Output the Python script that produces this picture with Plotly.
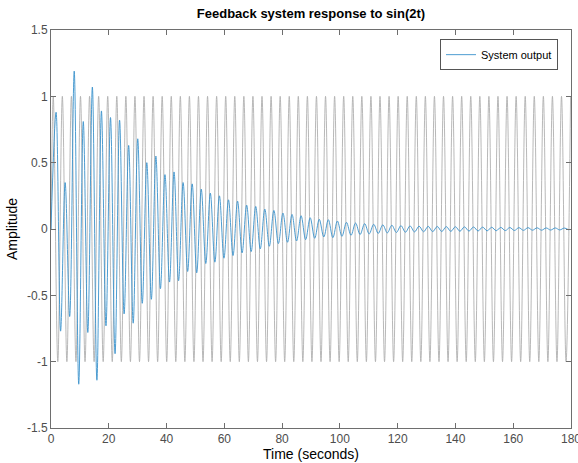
import numpy as np
import plotly.graph_objects as go

# ---- data ----
# input sin(2t): extrema (alternating +1/-1) every half period, first at t=0.785
input_first_t = 0.785
input_half_period = 1.5708
input_extrema = [
    1, -1, 1, -1, 1, -1, 1, -1, 1, -1, 1, -1, 1, -1, 1, -1, 1, -1, 1, -1,
    1, -1, 1, -1, 1, -1, 1, -1, 1, -1, 1, -1, 1, -1, 1, -1, 1, -1, 1, -1,
    1, -1, 1, -1, 1, -1, 1, -1, 1, -1, 1, -1, 1, -1, 1, -1, 1, -1, 1, -1,
    1, -1, 1, -1, 1, -1, 1, -1, 1, -1, 1, -1, 1, -1, 1, -1, 1, -1, 1, -1,
    1, -1, 1, -1, 1, -1, 1, -1, 1, -1, 1, -1, 1, -1, 1, -1, 1, -1, 1, -1,
    1, -1, 1, -1, 1, -1, 1, -1, 1, -1, 1, -1, 1, -1, 1,
]

# system output: peaks/troughs, first at t=1.75
output_first_t = 1.75
output_half_period = 1.5708
output_extrema = [
    0.88, -0.77, 0.35, -0.66, 1.19, -1.17, 0.81, -0.78, 1.07, -1.14,
    0.89, -0.73, 0.84, -0.94, 0.82, -0.64, 0.63, -0.71, 0.68, -0.56,
    0.50, -0.53, 0.55, -0.45, 0.41, -0.40, 0.43, -0.39, 0.35, -0.32,
    0.34, -0.33, 0.30, -0.26, 0.27, -0.25, 0.25, -0.22, 0.22, -0.20,
    0.21, -0.18, 0.18, -0.17, 0.17, -0.15, 0.15, -0.13, 0.14, -0.11,
    0.12, -0.10, 0.11, -0.09, 0.10, -0.08, 0.085, -0.07, 0.073, -0.06,
    0.07, -0.065, 0.06, -0.055, 0.05, -0.048, 0.045, -0.042, 0.04, -0.037,
    0.035, -0.033, 0.031, -0.029, 0.028, -0.026, 0.025, -0.024, 0.023, -0.022,
    0.021, -0.021, 0.020, -0.020, 0.019, -0.019, 0.018, -0.018, 0.017, -0.017,
    0.016, -0.016, 0.015, -0.015, 0.014, -0.014, 0.013, -0.013, 0.012, -0.012,
    0.011, -0.011, 0.010, -0.010, 0.010, -0.009, 0.009, -0.009, 0.008, -0.008,
    0.008, -0.007, 0.007, -0.007,
]

x_ticks = [0, 20, 40, 60, 80, 100, 120, 140, 160, 180]
y_ticks = [-1.5, -1, -0.5, 0, 0.5, 1, 1.5]
y_tick_labels = ["-1.5", "-1", "-0.5", "0", "0.5", "1", "1.5"]

# ---- build series ----
t_in = np.concatenate([[0.0], input_first_t + input_half_period * np.arange(len(input_extrema))])
y_in = np.concatenate([[0.0], input_extrema])
t_out = np.concatenate([[0.0], output_first_t + output_half_period * np.arange(len(output_extrema))])
y_out = np.concatenate([[0.0], output_extrema])

FONT = "Liberation Sans, Arial, Helvetica, sans-serif"

fig = go.Figure()
fig.add_trace(go.Scatter(
    x=t_in, y=y_in, mode="lines", showlegend=False, hoverinfo="skip",
    line=dict(color="#b0b0b0", width=0.9, shape="spline", smoothing=1.0),
))
fig.add_trace(go.Scatter(
    x=t_out, y=y_out, mode="lines", name="System output",
    line=dict(color="#3a92cc", width=0.9, shape="spline", smoothing=1.0),
))

axis_common = dict(
    showline=True, linecolor="#6e6e6e", linewidth=1, mirror="ticks",
    ticks="inside", ticklen=5, tickcolor="#6e6e6e", tickwidth=1,
    showgrid=False, zeroline=False, ticklabeloverflow="allow", automargin=False,
    tickfont=dict(family=FONT, size=12, color="#4d4d4d"),
)

fig.update_layout(
    width=578, height=463,
    margin=dict(l=51, r=7, t=30, b=35, autoexpand=False),
    paper_bgcolor="white", plot_bgcolor="white",
    title=dict(text="<b>Feedback system response to sin(2t)</b>",
               x=0.538, xanchor="center", y=0.972, yanchor="middle",
               font=dict(family=FONT, size=13, color="black")),
    xaxis=dict(range=[0, 180], tickvals=x_ticks, ticktext=[str(v) for v in x_ticks],
               title=dict(text="Time (seconds)", standoff=3,
                          font=dict(family=FONT, size=14, color="black")),
               **axis_common),
    yaxis=dict(range=[-1.5, 1.5], tickvals=y_ticks, ticktext=y_tick_labels,
               title=dict(text="Amplitude", standoff=6,
                          font=dict(family=FONT, size=14, color="black")),
               **axis_common),
    legend=dict(x=0.975, y=0.977, xanchor="right", yanchor="top",
                bgcolor="white", bordercolor="#555555", borderwidth=1,
                font=dict(family=FONT, size=11, color="black"),
                itemwidth=30, tracegroupgap=0),
    showlegend=True,
)

fig.write_html("out.html")
